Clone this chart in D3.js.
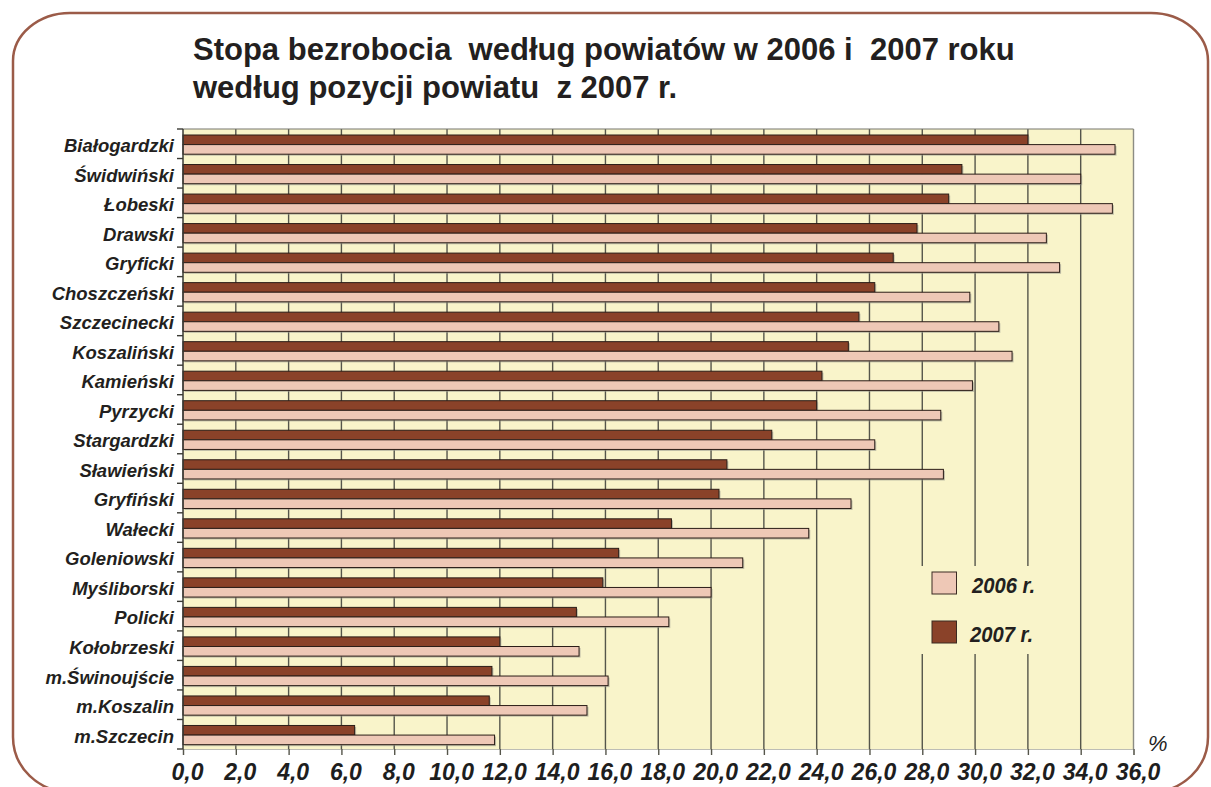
<!DOCTYPE html>
<html>
<head>
<meta charset="utf-8">
<script src="https://cdn.jsdelivr.net/npm/d3@7"></script>
<style>
  body { margin: 0; background: #fff; }
  svg { display: block; font-family: "Liberation Sans", Arial, sans-serif; }
  .title { white-space: pre; }
</style>
</head>
<body>
<svg id="chart" width="1211" height="787"></svg>
<script>
// powiaty, posortowane wg pozycji z 2007 r.
var categories = ["Białogardzki", "Świdwiński", "Łobeski", "Drawski", "Gryficki",
  "Choszczeński", "Szczecinecki", "Koszaliński", "Kamieński", "Pyrzycki",
  "Stargardzki", "Sławieński", "Gryfiński", "Wałecki", "Goleniowski",
  "Myśliborski", "Policki", "Kołobrzeski", "m.Świnoujście", "m.Koszalin", "m.Szczecin"];
var values2007 = [32.0, 29.5, 29.0, 27.8, 26.9, 26.2, 25.6, 25.2, 24.2, 24.0,
  22.3, 20.6, 20.3, 18.5, 16.5, 15.9, 14.9, 12.0, 11.7, 11.6, 6.5];
var values2006 = [35.3, 34.0, 35.2, 32.7, 33.2, 29.8, 30.9, 31.4, 29.9, 28.7,
  26.2, 28.8, 25.3, 23.7, 21.2, 20.0, 18.4, 15.0, 16.1, 15.3, 11.8];
var seriesNames = ["2007 r.", "2006 r."];
var xTicks = [0, 2, 4, 6, 8, 10, 12, 14, 16, 18, 20, 22, 24, 26, 28, 30, 32, 34, 36];
var titleLines = ["Stopa bezrobocia  według powiatów w 2006 i  2007 roku",
  "według pozycji powiatu  z 2007 r."];

var colors = { "2007 r.": "#8a4229", "2006 r.": "#eec8b6" };
var plotBg = "#f9f4ca";

var margin = { top: 129, left: 183 },
    width = 1133.5 - margin.left,
    height = 749 - margin.top;

var svg = d3.select("#chart");

// ramka z zaokraglonymi rogami
svg.append("path")
  .attr("d", "M13,61 A57,48 0 0 1 70,13 L1151,13 A57,48 0 0 1 1208,61 " +
             "L1208,737 A57,55 0 0 1 1151,792 L70,792 A57,55 0 0 1 13,737 Z")
  .attr("fill", "none")
  .attr("stroke", "#9b5b48")
  .attr("stroke-width", 2.5);

svg.selectAll("text.title")
  .data(titleLines)
  .enter().append("text")
  .attr("class", "title")
  .attr("x", 193)
  .attr("y", function (d, i) { return 60 + i * 38; })
  .attr("font-size", 31)
  .attr("font-weight", "bold")
  .attr("fill", "#231f20")
  .text(function (d) { return d; });

var g = svg.append("g").attr("transform", "translate(" + margin.left + "," + margin.top + ")");

var x = d3.scaleLinear().domain([0, 36]).range([0, width]);
var y = d3.scaleBand().domain(categories).range([0, height]).padding(0);
var ySub = d3.scaleBand().domain(seriesNames).range([6, 25.2]).padding(0);

g.append("rect").attr("width", width).attr("height", height).attr("fill", plotBg);

// siatka pionowa
g.selectAll("line.grid")
  .data(xTicks.slice(1))
  .enter().append("line")
  .attr("class", "grid")
  .attr("x1", function (d) { return x(d); })
  .attr("x2", function (d) { return x(d); })
  .attr("y1", 0).attr("y2", height)
  .attr("stroke", function (d) { return d === 36 ? "#8c8c84" : "#55554b"; })
  .attr("stroke-width", 1.4);

g.append("line").attr("x1", 0).attr("x2", width).attr("y1", 0).attr("y2", 0)
  .attr("stroke", "#77776e").attr("stroke-width", 1.2);

var rows = categories.map(function (c, i) {
  return { name: c, vals: [
    { key: "2007 r.", value: values2007[i] },
    { key: "2006 r.", value: values2006[i] }] };
});

var row = g.selectAll("g.row")
  .data(rows)
  .enter().append("g")
  .attr("class", "row")
  .attr("transform", function (d) { return "translate(0," + y(d.name) + ")"; });

// cien
row.selectAll("rect.shadow")
  .data(function (d) { return d.vals; })
  .enter().append("rect")
  .attr("class", "shadow")
  .attr("x", 1.5)
  .attr("y", function (d) { return ySub(d.key) + 1.5; })
  .attr("width", function (d) { return x(d.value); })
  .attr("height", ySub.bandwidth())
  .attr("fill", "#9a9a90")
  .attr("opacity", 0.6);

row.selectAll("rect.bar")
  .data(function (d) { return d.vals; })
  .enter().append("rect")
  .attr("class", "bar")
  .attr("x", 0)
  .attr("y", function (d) { return ySub(d.key); })
  .attr("width", function (d) { return x(d.value); })
  .attr("height", ySub.bandwidth())
  .attr("fill", function (d) { return colors[d.key]; })
  .attr("stroke", "#2b1d17")
  .attr("stroke-width", 1);

// os X
var xAxis = g.append("g")
  .attr("transform", "translate(0," + height + ")")
  .call(d3.axisBottom(x).tickValues(xTicks).tickSize(6).tickPadding(9)
    .tickFormat(function (d) { return d.toFixed(1).replace(".", ","); }));
xAxis.select(".domain").attr("stroke", "#bdbdb5").attr("stroke-width", 1.2);
xAxis.selectAll(".tick line").attr("stroke", "#55554b").attr("stroke-width", 1.4);
xAxis.selectAll("text")
  .attr("font-size", 23)
  .attr("font-weight", "bold")
  .attr("font-style", "italic")
  .attr("font-family", "'Liberation Sans', Arial, sans-serif")
  .attr("fill", "#1e1e1e")
  .attr("dx", 4);

svg.append("text")
  .attr("x", 1148).attr("y", 751)
  .attr("font-size", 22).attr("font-style", "italic")
  .attr("fill", "#1e1e1e")
  .text("%");

// os Y
g.append("line").attr("x1", 0).attr("x2", 0).attr("y1", 0).attr("y2", height)
  .attr("stroke", "#3a3a34").attr("stroke-width", 1.5);

var bounds = categories.map(function (c) { return y(c); }).concat([height]);
g.selectAll("line.ytick")
  .data(bounds)
  .enter().append("line")
  .attr("class", "ytick")
  .attr("x1", -6).attr("x2", 0)
  .attr("y1", function (d) { return d; }).attr("y2", function (d) { return d; })
  .attr("stroke", "#3a3a34").attr("stroke-width", 1.4);

g.selectAll("text.cat")
  .data(categories)
  .enter().append("text")
  .attr("class", "cat")
  .attr("x", -9)
  .attr("y", function (d) { return y(d) + y.bandwidth() / 2; })
  .attr("dy", "0.45em")
  .attr("text-anchor", "end")
  .attr("font-size", 18.5)
  .attr("font-weight", "bold")
  .attr("font-style", "italic")
  .attr("fill", "#231f20")
  .text(function (d) { return d; });

// legenda
var legend = svg.append("g");
legend.append("rect")
  .attr("x", 895).attr("y", 566).attr("width", 170).attr("height", 88)
  .attr("fill", plotBg);
var legendItems = ["2006 r.", "2007 r."];
var li = legend.selectAll("g.item")
  .data(legendItems)
  .enter().append("g")
  .attr("class", "item")
  .attr("transform", function (d, i) { return "translate(932," + (572 + i * 49) + ")"; });
li.append("rect")
  .attr("width", 24.5).attr("height", 22)
  .attr("fill", function (d) { return colors[d]; })
  .attr("stroke", "#3a2a22").attr("stroke-width", 1);
li.append("text")
  .attr("x", function (d, i) { return 40 - i * 2; })
  .attr("y", 20.5)
  .attr("font-size", 22)
  .attr("font-weight", "bold")
  .attr("font-style", "italic")
  .attr("fill", "#231f20")
  .attr("textLength", 63)
  .attr("lengthAdjust", "spacingAndGlyphs")
  .text(function (d) { return d; });
</script>
</body>
</html>
